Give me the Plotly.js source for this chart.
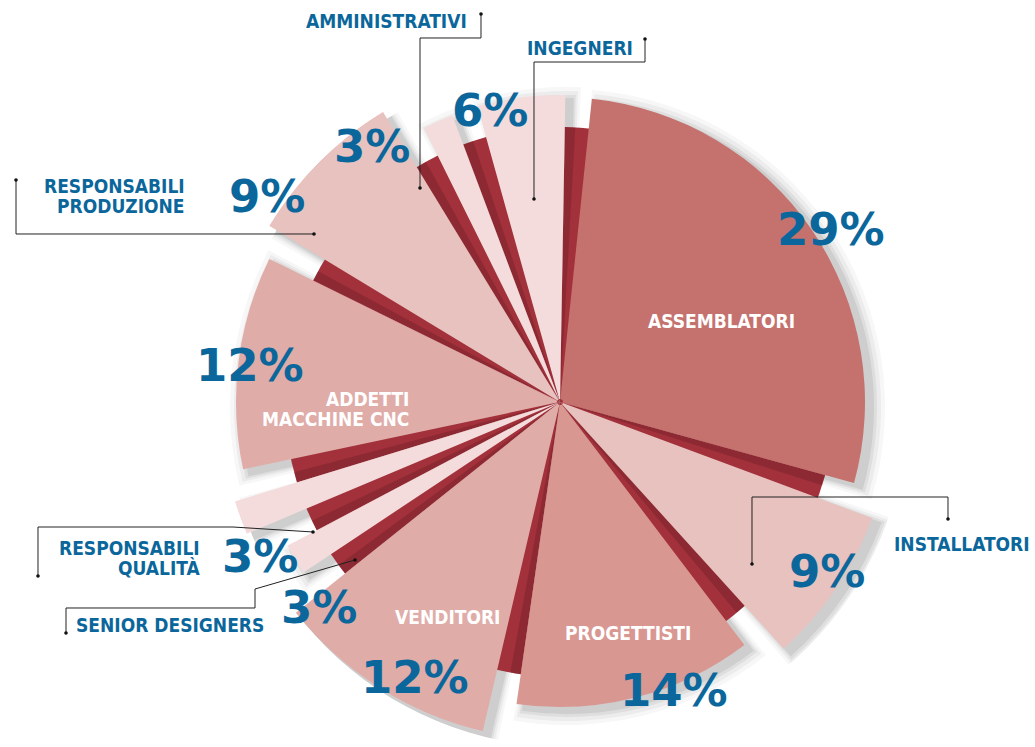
<!DOCTYPE html>
<html>
<head>
<meta charset="utf-8">
<script src="https://cdn.plot.ly/plotly-3.0.1.min.js"></script>
<style>html,body{margin:0;padding:0;background:#fff;}#chart{width:1035px;height:747px;}</style>
</head>
<body>
<div id="chart"></div>
<script>
// ---------- DATA ----------
const categories = ['ASSEMBLATORI','INSTALLATORI','PROGETTISTI','VENDITORI','SENIOR DESIGNERS','RESPONSABILI QUALITÀ','ADDETTI MACCHINE CNC','RESPONSABILI PRODUZIONE','AMMINISTRATIVI','INGEGNERI'];
const percent = [29, 9, 14, 12, 3, 3, 12, 9, 3, 6];
const pctLabels = percent.map(p => p + '%');
const nameLines = [['ASSEMBLATORI'],['INSTALLATORI'],['PROGETTISTI'],['VENDITORI'],['SENIOR DESIGNERS'],['RESPONSABILI','QUALITÀ'],['ADDETTI','MACCHINE CNC'],['RESPONSABILI','PRODUZIONE'],['AMMINISTRATIVI'],['INGEGNERI']];

// ---------- STYLE ----------
const W = 1035, H = 747;
const sliceRadius = [305, 333, 305, 338, 308, 340, 324, 340, 306, 307];
const sliceColor = ['#c5726e','#e8c2be','#d99792','#e0aca8','#f3dcdb','#f3dcdb','#e0aca8','#e8c2be','#f3dcdb','#f3dcdb'];
const darkColor = '#a2313b', darkShade = '#6e1f25';
const blue = '#0b679b';
const startAngle = 1, gap = 5, darkR = 275, innerBase = 3;

const cx = 560, cy = 402, R = 340;
const sx = 567, sy = 407;

// angles derived from percentages
let cum = 0;
const dTheta = [], dWidth = [], lTheta = [], lWidth = [], shadeTheta = [];
percent.forEach(p => {
  const s = startAngle + cum * 3.6, w = p * 3.6;
  dTheta.push(s + w / 2); dWidth.push(w);
  lTheta.push(s + gap + (w - gap) / 2); lWidth.push(w - gap);
  shadeTheta.push(s + 1.1);
  cum += p;
});

const polarBase = (dx, dy) => ({
  domain: {x: [(dx - R) / W, (dx + R) / W], y: [(H - dy - R) / H, (H - dy + R) / H]},
  bgcolor: 'rgba(0,0,0,0)', barmode: 'overlay',
  radialaxis: {range: [0, R], visible: false, showgrid: false, showline: false, showticklabels: false, ticks: ''},
  angularaxis: {rotation: 90, direction: 'clockwise', visible: false, showgrid: false, showline: false, showticklabels: false, ticks: ''}
});

const traces = [];
// soft drop shadow (under everything)
[[13, 3.0, 0.035], [9, 2.0, 0.05], [5, 1.2, 0.07], [2, 0.5, 0.09]].forEach(([dr, dw, op]) => {
  traces.push({type: 'barpolar', subplot: 'polar', theta: lTheta, width: lWidth.map(w => w + dw),
    r: sliceRadius.map(r => r + dr - innerBase), base: innerBase,
    marker: {color: 'rgba(40,40,40,' + op + ')', line: {width: 0}}, hoverinfo: 'skip'});
});
// dark wedges
traces.push({type: 'barpolar', subplot: 'polar2', theta: dTheta, width: dWidth, r: percent.map(() => darkR),
  marker: {color: darkColor, line: {width: 0}}, hoverinfo: 'skip'});
traces.push({type: 'barpolar', subplot: 'polar2', theta: shadeTheta, width: percent.map(() => 2.2), r: percent.map(() => darkR),
  marker: {color: darkShade, opacity: 0.4, line: {width: 0}}, hoverinfo: 'skip'});
// light wedges
traces.push({type: 'barpolar', subplot: 'polar2', theta: lTheta, width: lWidth,
  r: sliceRadius.map(r => r - innerBase), base: innerBase,
  marker: {color: sliceColor, line: {width: 0}}, hoverinfo: 'skip'});

// ---------- LABELS ----------
const X = px => px / W, Y = py => 1 - py / H;
const pctFont = {family: 'DejaVu Sans, sans-serif', size: 45, color: blue, weight: 700};
const nameFont = c => ({family: '"DejaVu Sans Condensed", "Liberation Sans Narrow", sans-serif', size: 19, color: c, weight: 700});
const pctPos = [[831,229],[827,571],[674,690],[415,677],[319,607],[260,556],[250,365],[267,197],[372,146],[490,110]];
// name label: [x, firstLineY, anchor, colour]
const namePos = [[721,321,'center','#fff'],[892,544,'left',blue],[628,633,'center','#fff'],[447,617,'center','#fff'],
  [170,625,'center',blue],[202,548,'right',blue],[411,399,'right','#fff'],[187,186,'right',blue],[386,21,'center',blue],[580,48,'center',blue]];

const annotations = [];
pctLabels.forEach((t, i) => {
  annotations.push({text: t, x: X(pctPos[i][0]), y: Y(pctPos[i][1]), xref: 'paper', yref: 'paper',
    xanchor: 'center', yanchor: 'middle', showarrow: false, font: pctFont});
});
nameLines.forEach((lines, i) => {
  const [x, y, anc, col] = namePos[i];
  lines.forEach((ln, k) => {
    annotations.push({text: ln, x: X(x), y: Y(y + k * 20), xref: 'paper', yref: 'paper',
      xanchor: anc, yanchor: 'middle', showarrow: false, font: nameFont(col)});
  });
});

// leader lines
const leaders = [
  [[481,14],[481,38],[420,38],[420,188]],
  [[645,39],[645,62],[534,62],[534,199]],
  [[16,180],[16,234],[314,234]],
  [[948,519],[948,497],[752,497],[752,564]],
  [[38,576],[38,527],[233,527],[313,532]],
  [[355,560],[255,589],[255,608],[66,608],[66,633]]
];
const shapes = [];
leaders.forEach(pts => {
  const d = pts.map((p, k) => (k ? 'L' : 'M') + X(p[0]).toFixed(5) + ',' + Y(p[1]).toFixed(5)).join(' ');
  shapes.push({type: 'path', xref: 'paper', yref: 'paper', path: d, line: {color: '#222', width: 1}});
  [pts[0], pts[pts.length - 1]].forEach(p => {
    shapes.push({type: 'circle', xref: 'paper', yref: 'paper', x0: X(p[0] - 1.8), x1: X(p[0] + 1.8),
      y0: Y(p[1] + 1.8), y1: Y(p[1] - 1.8), fillcolor: '#111', line: {width: 0}});
  });
});

const layout = {
  width: W, height: H, margin: {l: 0, r: 0, t: 0, b: 0},
  paper_bgcolor: '#fff', plot_bgcolor: '#fff', showlegend: false, hovermode: false,
  polar: polarBase(sx, sy), polar2: polarBase(cx, cy),
  annotations, shapes
};
Plotly.newPlot('chart', traces, layout, {displayModeBar: false, staticPlot: true});
</script>
</body>
</html>
